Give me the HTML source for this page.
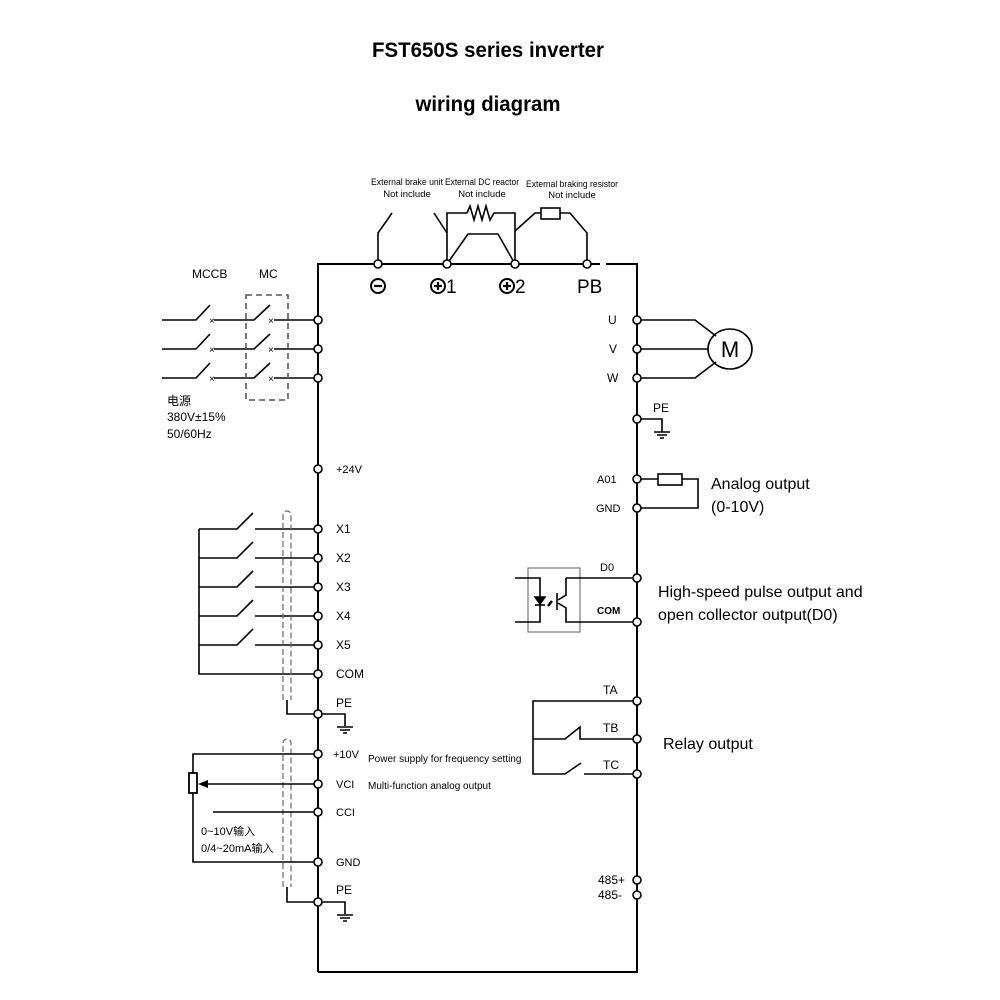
<!DOCTYPE html>
<html><head><meta charset="utf-8"><style>
html,body{margin:0;padding:0;background:#fff;}
svg{display:block;}
text{font-family:"Liberation Sans","Noto Sans CJK SC",sans-serif;fill:#000;}
</style></head><body>
<svg width="1000" height="1000" viewBox="0 0 1000 1000" xmlns="http://www.w3.org/2000/svg">
<defs>
<g id="gnd"><line x1="-8" y1="0" x2="8" y2="0" stroke="#000" stroke-width="1.5"/><line x1="-5" y1="3" x2="5" y2="3" stroke="#000" stroke-width="1.5"/><line x1="-2" y1="6" x2="2" y2="6" stroke="#000" stroke-width="1.5"/></g>
</defs>
<text x="488" y="57" font-size="21" font-weight="bold" text-anchor="middle" textLength="232" lengthAdjust="spacingAndGlyphs">FST650S series inverter</text>
<text x="488" y="111" font-size="21" font-weight="bold" text-anchor="middle" textLength="145" lengthAdjust="spacingAndGlyphs">wiring diagram</text>

<g fill="none" stroke="#000" stroke-width="2">
<polyline points="318,972 318,264 600,264"/>
<polyline points="606,264 637,264 637,972 318,972"/>
</g>
<g fill="none" stroke="#000" stroke-width="1.6">
<polyline points="378,264 378,233 392,213"/>
<polyline points="447,264 447,213 467,213"/>
<polyline points="467,213 470,206 474,220 478,206 482,220 486,206 490,220 494,213 515,213 515,264"/>
<line x1="447" y1="233" x2="434" y2="213"/>
<polyline points="447,264 468,234 498,234 515,264"/>
<polyline points="515,231 535,213 541,213"/>
<rect x="541" y="208" width="19" height="11"/>
<polyline points="560,213 570,213 587,233 587,264"/>
<polyline points="162,320 196,320 210,305"/>
<polyline points="214,320 254,320 270,305"/>
<line x1="274" y1="320" x2="318" y2="320"/>
<polyline points="162,349 196,349 210,334"/>
<polyline points="214,349 254,349 270,334"/>
<line x1="274" y1="349" x2="318" y2="349"/>
<polyline points="162,378 196,378 210,363"/>
<polyline points="214,378 254,378 270,363"/>
<line x1="274" y1="378" x2="318" y2="378"/>
<rect x="246" y="295" width="42" height="105" stroke-dasharray="6,4" stroke="#555"/>
<polyline points="637,320 695,320 716,336"/>
<line x1="637" y1="349" x2="708" y2="349"/>
<polyline points="637,378 695,378 716,362"/>
<ellipse cx="730" cy="349" rx="22" ry="20"/>
<polyline points="637,419 662,419 662,432"/>
<line x1="637" y1="479" x2="658" y2="479"/>
<rect x="658" y="474" width="24" height="11"/>
<polyline points="682,479 698,479 698,508 637,508"/>
<rect x="528" y="568" width="52" height="64" stroke="#777" stroke-width="1.2"/>
<polyline points="515,578 540,578 540,622 515,622"/>
<polygon points="535,597 545,597 540,604" fill="#000"/>
<line x1="535" y1="605" x2="545" y2="605"/>
<line x1="548" y1="606" x2="552" y2="601" stroke-width="2.5"/>
<line x1="557" y1="593" x2="557" y2="610"/>
<polyline points="566,578 637,578"/>
<polyline points="566,578 566,595 558,600"/>
<polyline points="558,603 566,608 566,622 637,622"/>
<polyline points="637,701 533,701 533,774 565,774 581,763"/>
<polyline points="533,739 565,739 580,727 580,739 637,739"/>
<line x1="584" y1="774" x2="637" y2="774"/>
<polyline points="199,529 199,674 318,674"/>
<polyline points="199,529 237,529 253,513"/><line x1="255" y1="529" x2="318" y2="529"/>
<polyline points="199,558 237,558 253,542"/><line x1="255" y1="558" x2="318" y2="558"/>
<polyline points="199,587 237,587 253,571"/><line x1="255" y1="587" x2="318" y2="587"/>
<polyline points="199,616 237,616 253,600"/><line x1="255" y1="616" x2="318" y2="616"/>
<polyline points="199,645 237,645 253,629"/><line x1="255" y1="645" x2="318" y2="645"/>
<path d="M283,700 L283,515 A4,4 0 0 1 291,515 L291,700" stroke="#666" stroke-dasharray="6,3" stroke-width="1.2"/>
<polyline points="287,700 287,714 345,714 345,726"/>
<path d="M283,887 L283,743 A4,4 0 0 1 291,743 L291,887" stroke="#666" stroke-dasharray="6,3" stroke-width="1.2"/>
<polyline points="287,887 287,902 345,902 345,914"/>
<polyline points="318,754 193,754 193,773"/>
<polyline points="193,793 193,862 318,862"/>
<rect x="189" y="773" width="8" height="20" stroke-width="1.8"/>
<line x1="318" y1="784" x2="206" y2="784"/>
<line x1="213" y1="812" x2="318" y2="812"/>
</g>
<polygon points="198,784 208,780 208,788" fill="#000"/>
<use href="#gnd" x="662" y="432"/>
<use href="#gnd" x="345" y="727"/>
<use href="#gnd" x="345" y="915"/>
<g font-size="10" fill="#000">
<text x="209" y="324">×</text><text x="268" y="324">×</text>
<text x="209" y="353">×</text><text x="268" y="353">×</text>
<text x="209" y="382">×</text><text x="268" y="382">×</text>
</g>
<g fill="#fff" stroke="#000" stroke-width="1.6">
<circle cx="378" cy="264" r="4"/><circle cx="447" cy="264" r="4"/><circle cx="515" cy="264" r="4"/><circle cx="587" cy="264" r="4"/>
<circle cx="318" cy="320" r="4"/><circle cx="318" cy="349" r="4"/><circle cx="318" cy="378" r="4"/>
<circle cx="318" cy="469" r="4"/><circle cx="318" cy="529" r="4"/><circle cx="318" cy="558" r="4"/><circle cx="318" cy="587" r="4"/><circle cx="318" cy="616" r="4"/><circle cx="318" cy="645" r="4"/><circle cx="318" cy="674" r="4"/><circle cx="318" cy="714" r="4"/>
<circle cx="318" cy="754" r="4"/><circle cx="318" cy="784" r="4"/><circle cx="318" cy="812" r="4"/><circle cx="318" cy="862" r="4"/><circle cx="318" cy="902" r="4"/>
<circle cx="637" cy="320" r="4"/><circle cx="637" cy="349" r="4"/><circle cx="637" cy="378" r="4"/><circle cx="637" cy="419" r="4"/>
<circle cx="637" cy="479" r="4"/><circle cx="637" cy="508" r="4"/><circle cx="637" cy="578" r="4"/><circle cx="637" cy="622" r="4"/>
<circle cx="637" cy="701" r="4"/><circle cx="637" cy="739" r="4"/><circle cx="637" cy="774" r="4"/><circle cx="637" cy="880" r="4"/><circle cx="637" cy="895" r="4"/>
</g>
<text x="730" y="357" font-size="22" text-anchor="middle">M</text>
<g font-size="9.5" text-anchor="middle">
<text x="407" y="185" textLength="72" lengthAdjust="spacingAndGlyphs">External brake unit</text>
<text x="407" y="197">Not include</text>
<text x="482" y="185" textLength="74" lengthAdjust="spacingAndGlyphs">External DC reactor</text>
<text x="482" y="197">Not include</text>
<text x="572" y="187" textLength="92" lengthAdjust="spacingAndGlyphs">External braking resistor</text>
<text x="572" y="198">Not include</text>
</g>
<g font-size="19">
<circle cx="378" cy="286" r="7" fill="none" stroke="#000" stroke-width="2"/><line x1="374" y1="286" x2="382" y2="286" stroke="#000" stroke-width="2.2"/>
<circle cx="438" cy="286" r="7" fill="none" stroke="#000" stroke-width="2"/><line x1="434" y1="286" x2="442" y2="286" stroke="#000" stroke-width="2.2"/><line x1="438" y1="282" x2="438" y2="290" stroke="#000" stroke-width="2.2"/>
<text x="446" y="293">1</text>
<circle cx="507" cy="286" r="7" fill="none" stroke="#000" stroke-width="2"/><line x1="503" y1="286" x2="511" y2="286" stroke="#000" stroke-width="2.2"/><line x1="507" y1="282" x2="507" y2="290" stroke="#000" stroke-width="2.2"/>
<text x="515" y="293">2</text>
<text x="577" y="293">PB</text>
</g>
<g font-size="12">
<text x="192" y="278">MCCB</text><text x="259" y="278">MC</text>
<text x="167" y="405">电源</text>
<text x="167" y="421">380V±15%</text>
<text x="167" y="438">50/60Hz</text>
<text x="336" y="473" font-size="11">+24V</text>
<text x="336" y="533">X1</text><text x="336" y="562">X2</text><text x="336" y="591">X3</text><text x="336" y="620">X4</text><text x="336" y="649">X5</text>
<text x="336" y="678">COM</text><text x="336" y="707">PE</text>
<text x="333" y="758" font-size="11">+10V</text><text x="368" y="762" font-size="10">Power supply for frequency setting</text>
<text x="336" y="788" font-size="11">VCI</text><text x="368" y="789" font-size="10">Multi-function analog output</text>
<text x="336" y="816" font-size="11">CCI</text>
<text x="201" y="835" font-size="11">0~10V输入</text>
<text x="201" y="852" font-size="11">0/4~20mA输入</text>
<text x="336" y="866" font-size="11">GND</text><text x="336" y="894">PE</text>
<text x="608" y="324">U</text><text x="609" y="353">V</text><text x="607" y="382">W</text>
<text x="653" y="412">PE</text>
<text x="597" y="483" font-size="11">A01</text><text x="596" y="512" font-size="11">GND</text>
<text x="600" y="571" font-size="11">D0</text><text x="597" y="614" font-size="10" font-weight="bold">COM</text>
<text x="603" y="694">TA</text><text x="603" y="732">TB</text><text x="603" y="769">TC</text>
<text x="598" y="884">485+</text><text x="598" y="899">485-</text>
</g>
<g font-size="16">
<text x="711" y="489">Analog output</text>
<text x="711" y="512">(0-10V)</text>
<text x="658" y="597">High-speed pulse output and</text>
<text x="658" y="620">open collector output(D0)</text>
<text x="663" y="749">Relay output</text>
</g>
</svg>
</body></html>
